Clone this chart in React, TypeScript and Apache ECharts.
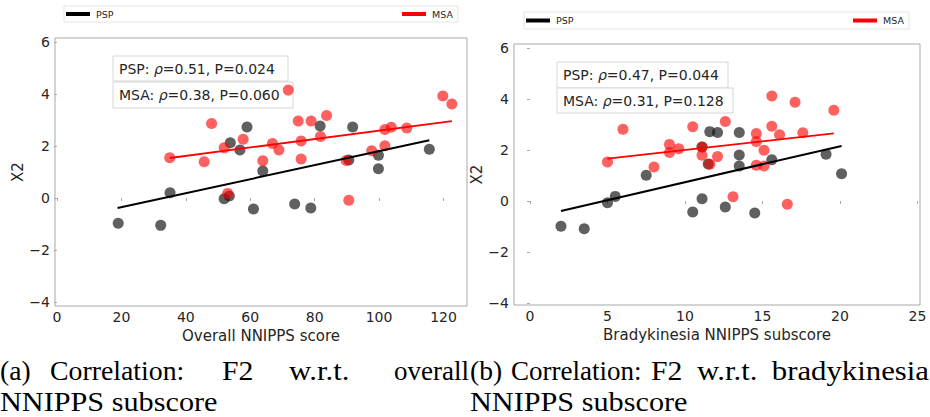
import React, { useEffect, useRef } from "react";
import * as echarts from "echarts";

// ---------- data ----------
const leftPspX = [19.0, 32.2, 35.1, 51.9, 53.5, 53.8, 56.8, 59.0, 61.0, 63.9, 73.8, 78.8, 81.7, 90.6, 91.8, 99.8, 99.8, 115.6];
const leftPspY = [-0.97, -1.05, 0.2, -0.03, 0.08, 2.13, 1.85, 2.73, -0.42, 1.04, -0.23, -0.38, 2.77, 1.46, 2.73, 1.65, 1.13, 1.88];
const leftMsaX = [35.0, 45.7, 48.0, 51.9, 53.0, 57.8, 63.9, 66.9, 68.9, 71.8, 74.9, 75.8, 75.8, 78.9, 81.8, 83.7, 89.8, 90.6, 97.7, 101.8, 101.8, 103.8, 108.6, 119.8, 122.6];
const leftMsaY = [1.55, 1.4, 2.87, 1.93, 0.18, 2.26, 1.43, 2.1, 1.85, 4.15, 2.96, 2.19, 1.5, 2.96, 2.37, 3.17, 1.44, -0.08, 1.82, 2.01, 2.64, 2.72, 2.69, 3.92, 3.62];

const rightPspX = [2.0, 3.5, 5.0, 5.5, 7.5, 10.5, 11.1, 11.1, 11.5, 11.6, 12.1, 12.6, 13.5, 13.5, 13.5, 14.5, 15.6, 19.1, 20.1];
const rightPspY = [-0.99, -1.09, -0.07, 0.18, 1.01, -0.43, 0.09, 2.12, 1.45, 2.72, 2.69, -0.24, 2.69, 1.8, 1.37, -0.47, 1.62, 1.83, 1.07];
const rightMsaX = [5.0, 6.0, 8.0, 9.0, 9.0, 9.6, 10.5, 11.1, 11.1, 11.6, 12.1, 12.6, 13.1, 14.6, 14.6, 14.6, 15.1, 15.1, 15.6, 15.6, 16.1, 16.6, 17.1, 17.6, 19.6];
const rightMsaY = [1.53, 2.81, 1.33, 2.22, 1.9, 2.05, 2.91, 2.12, 1.79, 1.44, 1.74, 3.12, 0.17, 2.65, 2.33, 1.4, 1.37, 1.99, 4.12, 2.93, 2.6, -0.13, 3.87, 2.68, 3.56];

// regression line end points
const leftPspFitX = [18.8, 115.6];
const leftPspFitY = [-0.38, 2.22];
const leftMsaFitX = [35.0, 122.6];
const leftMsaFitY = [1.54, 2.96];
const rightPspFitX = [2.0, 20.1];
const rightPspFitY = [-0.39, 2.16];
const rightMsaFitX = [5.0, 19.6];
const rightMsaFitY = [1.66, 2.65];

const leftXTicks = [0, 20, 40, 60, 80, 100, 120];
const rightXTicks = [0, 5, 10, 15, 20, 25];
const yTicks = [-4, -2, 0, 2, 4, 6];

const statsLeft = [
  { group: "PSP", rho: "0.51", p: "0.024" },
  { group: "MSA", rho: "0.38", p: "0.060" },
];
const statsRight = [
  { group: "PSP", rho: "0.47", p: "0.044" },
  { group: "MSA", rho: "0.31", p: "0.128" },
];

const xNames = ["Overall NNIPPS score", "Bradykinesia NNIPPS subscore"];
const yName = "X2";
const captionA1 = ["(a)", "Correlation:", "F2", "w.r.t.", "overall"];
const captionB1 = ["(b)", "Correlation:", "F2", "w.r.t.", "bradykinesia"];
const caption2 = "NNIPPS subscore";

// ---------- helpers ----------
const zip = (xs: number[], ys: number[]) => xs.map((x, i) => [x, ys[i]]);

const FONT = "DejaVu Sans";
const TXT = "#262626";
const FRAME = "#a8a8a8";
const BLACK = "rgba(20,20,20,0.85)";
const RED = "rgba(255,0,0,0.78)";
const fmt = (v: number) => String(v).replace("-", "\u2212");

function xAxisOf(gridIndex: number, min: number, max: number, ticks: number[], name: string) {
  return {
    type: "value",
    gridIndex,
    min,
    max,
    name,
    nameLocation: "middle",
    nameGap: 20,
    nameTextStyle: { fontFamily: FONT, fontSize: 15, color: TXT },
    axisLine: { show: false },
    splitLine: { show: false },
    axisTick: { show: true, length: 3, customValues: ticks, lineStyle: { color: FRAME } },
    axisLabel: { customValues: ticks, fontFamily: FONT, fontSize: 14, color: TXT, margin: 4, formatter: fmt },
  };
}
function yAxisOf(gridIndex: number, min: number, max: number) {
  return {
    type: "value",
    gridIndex,
    min,
    max,
    name: yName,
    nameLocation: "middle",
    nameGap: 30,
    nameTextStyle: { fontFamily: FONT, fontSize: 15, color: TXT },
    axisLine: { show: false },
    splitLine: { show: false },
    axisTick: { show: true, length: 3, customValues: yTicks, lineStyle: { color: FRAME } },
    axisLabel: { customValues: yTicks, fontFamily: FONT, fontSize: 14, color: TXT, margin: 5, formatter: fmt },
  };
}

function scatter(idx: number, data: number[][], color: string) {
  return {
    type: "scatter",
    xAxisIndex: idx,
    yAxisIndex: idx,
    data,
    symbolSize: 11,
    itemStyle: { color },
    clip: false,
    z: 3,
  };
}
function fit(idx: number, data: number[][], color: string, width: number) {
  return {
    type: "line",
    xAxisIndex: idx,
    yAxisIndex: idx,
    data,
    symbol: "none",
    lineStyle: { color, width },
    z: 4,
  };
}

function statBox(x: number, y: number, w: number, h: number, s: { group: string; rho: string; p: string }) {
  return {
    type: "group",
    z: 1,
    children: [
      {
        type: "rect",
        shape: { x, y, width: w, height: h },
        style: { fill: "#ffffff", stroke: "#d6d6d6", lineWidth: 1 },
        z: 1,
      },
      {
        type: "text",
        x: x + 6,
        y: y + h / 2,
        z: 2,
        style: {
          text: `{n|${s.group}: }{i|ρ}{n|=${s.rho}, P=${s.p}}`,
          verticalAlign: "middle",
          rich: {
            n: { fontFamily: FONT, fontSize: 14, fill: TXT },
            i: { fontFamily: FONT, fontSize: 14, fontStyle: "italic", fill: TXT },
          },
        },
      },
    ],
  };
}

function legendBox(x: number, y: number, w: number, h: number) {
  const cy = y + h / 2;
  return {
    type: "group",
    children: [
      { type: "rect", shape: { x, y, width: w, height: h }, style: { fill: "#fff", stroke: "#e4e4e4", lineWidth: 1 } },
      { type: "line", shape: { x1: x + 2, y1: cy, x2: x + 26, y2: cy }, style: { stroke: "#000", lineWidth: 4 } },
      { type: "text", x: x + 32, y: cy, style: { text: "PSP", fontFamily: FONT, fontSize: 9.5, fill: TXT, verticalAlign: "middle" } },
      { type: "line", shape: { x1: x + w - 56, y1: cy, x2: x + w - 32, y2: cy }, style: { stroke: "#f00", lineWidth: 4 } },
      { type: "text", x: x + w - 26, y: cy, style: { text: "MSA", fontFamily: FONT, fontSize: 9.5, fill: TXT, verticalAlign: "middle" } },
    ],
  };
}

const SERIF = "Liberation Serif";
const CAP_SIZE = 27;
function capWord(text: string, x: number, y: number, scaleX: number, align: string = "left") {
  return {
    type: "text",
    x,
    y,
    scaleX,
    style: { text, fontFamily: SERIF, fontSize: CAP_SIZE, fill: "#000", align, verticalAlign: "middle" },
  };
}

export default function App() {
  const ref = useRef<HTMLDivElement>(null);
  useEffect(() => {
    if (!ref.current) return;
    const chart = echarts.init(ref.current, null, { renderer: "svg" });
    const gridStyle = { show: true, borderColor: FRAME, borderWidth: 1, backgroundColor: "transparent" };
    chart.setOption({
      animation: false,
      grid: [
        { left: 55, top: 38, width: 412, height: 268, ...gridStyle },
        { left: 514, top: 44, width: 406, height: 261, ...gridStyle },
      ],
      xAxis: [
        xAxisOf(0, -0.62, 127.3, leftXTicks, xNames[0]),
        xAxisOf(1, -1.03, 25.16, rightXTicks, xNames[1]),
      ],
      yAxis: [yAxisOf(0, -4.15, 6.154), yAxisOf(1, -4.08, 6.157)],
      series: [
        scatter(0, zip(leftPspX, leftPspY), BLACK),
        scatter(0, zip(leftMsaX, leftMsaY), RED),
        fit(0, zip(leftPspFitX, leftPspFitY), "#000", 2),
        fit(0, zip(leftMsaFitX, leftMsaFitY), "#f00", 1.8),
        scatter(1, zip(rightPspX, rightPspY), BLACK),
        scatter(1, zip(rightMsaX, rightMsaY), RED),
        fit(1, zip(rightPspFitX, rightPspFitY), "#000", 2),
        fit(1, zip(rightMsaFitX, rightMsaFitY), "#f00", 1.8),
      ],
      graphic: [
        legendBox(64, 6, 394, 16),
        legendBox(524, 12, 385, 17),
        statBox(113, 56, 175, 25, statsLeft[0]),
        statBox(113, 82, 180, 26, statsLeft[1]),
        statBox(557, 62, 171, 26, statsRight[0]),
        statBox(557, 88, 176, 25, statsRight[1]),
        capWord(captionA1[0], 0, 371, 1.02),
        capWord(captionA1[1], 50, 371, 1.03),
        capWord(captionA1[2], 222, 371, 1.1),
        capWord(captionA1[3], 289, 371, 1.14),
        capWord(captionA1[4], 469, 371, 1.0, "right"),
        capWord(captionB1[0], 470, 371, 1.02),
        capWord(captionB1[1], 511, 371, 1.0),
        capWord(captionB1[2], 651, 371, 1.1),
        capWord(captionB1[3], 697, 371, 1.14),
        capWord(captionB1[4], 929, 371, 1.14, "right"),
        capWord(caption2, 0, 402, 1.12),
        capWord(caption2, 470, 402, 1.12),
      ],
    });
    return () => chart.dispose();
  }, []);
  return <div ref={ref} style={{ position: "fixed", left: 0, top: 0, width: 930, height: 417, background: "#fff" }} />;
}
